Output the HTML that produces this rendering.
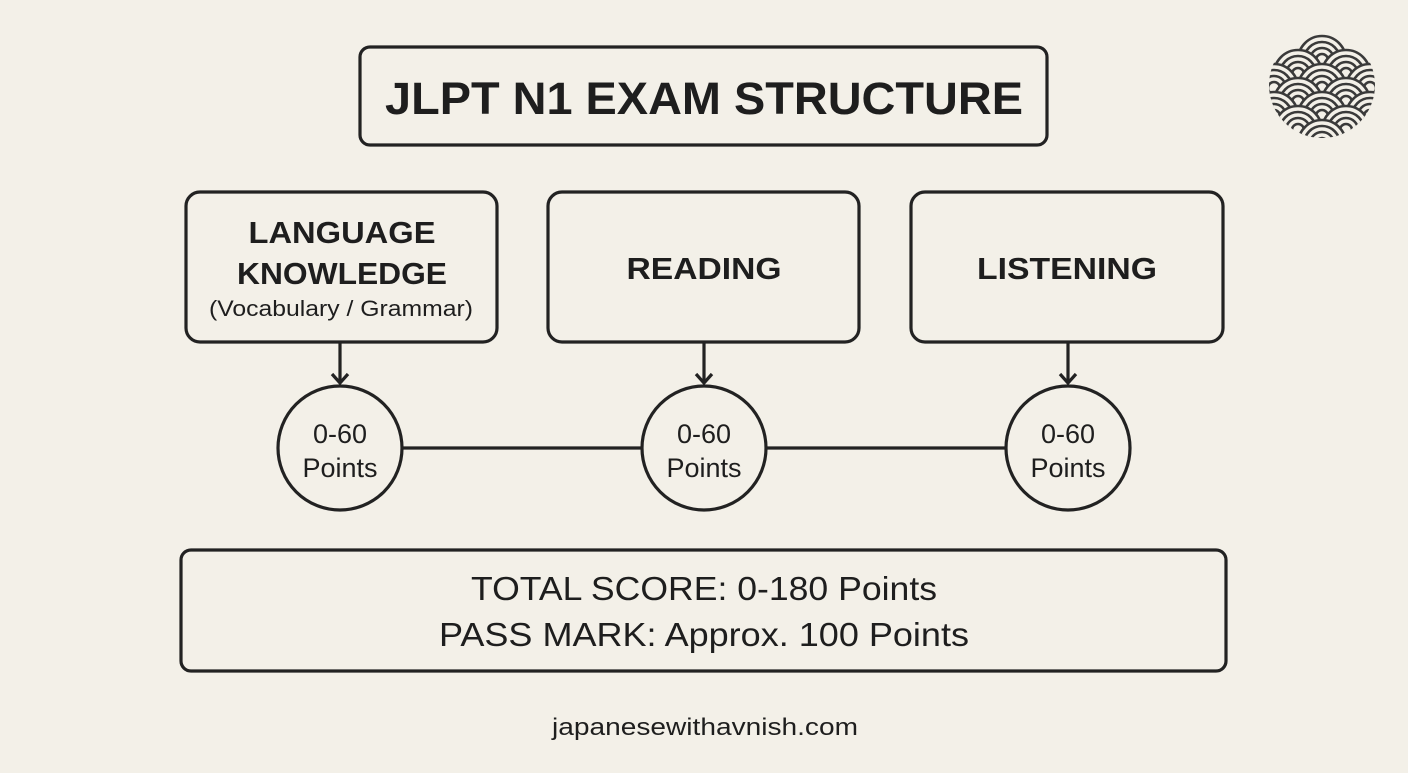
<!DOCTYPE html>
<html><head><meta charset="utf-8"><style>
body{margin:0;width:1408px;height:768px;background:#f3f0e8;overflow:hidden;font-family:"Liberation Sans",sans-serif;color:#1e1e1e}
</style></head><body>
<svg width="1408" height="768" viewBox="0 0 1408 768" xmlns="http://www.w3.org/2000/svg">
<defs>
<clipPath id="c"><circle cx="1322" cy="85" r="53"/></clipPath>
<g id="w" fill="#f3f0e8" stroke="#3a3a3a" stroke-width="2.6">
<circle r="24"/><circle r="18"/><circle r="12"/><circle r="6"/>
</g>
</defs>
<g fill="none" stroke="#222" stroke-width="3.2">
<rect x="360" y="47" width="687" height="98" rx="10"/>
<rect x="186" y="192" width="311" height="150" rx="14"/>
<rect x="548" y="192" width="311" height="150" rx="14"/>
<rect x="911" y="192" width="312" height="150" rx="14"/>
<line x1="402" y1="448" x2="642" y2="448"/>
<line x1="766" y1="448" x2="1006" y2="448"/>
<circle cx="340" cy="448" r="62"/>
<circle cx="704" cy="448" r="62"/>
<circle cx="1068" cy="448" r="62"/>
<line x1="340" y1="342" x2="340" y2="383"/>
<line x1="704" y1="342" x2="704" y2="383"/>
<line x1="1068" y1="342" x2="1068" y2="383"/>
<polyline points="332,374 340,383 348,374"/>
<polyline points="696,374 704,383 712,374"/>
<polyline points="1060,374 1068,383 1076,374"/>
<rect x="181" y="550" width="1045" height="121" rx="10"/>
</g>
<g clip-path="url(#c)">
<use href="#w" x="1322" y="60"/>
<use href="#w" x="1298" y="74"/><use href="#w" x="1346" y="74"/>
<use href="#w" x="1274" y="88"/><use href="#w" x="1322" y="88"/><use href="#w" x="1370" y="88"/>
<use href="#w" x="1298" y="102"/><use href="#w" x="1346" y="102"/>
<use href="#w" x="1274" y="116"/><use href="#w" x="1322" y="116"/><use href="#w" x="1370" y="116"/>
<use href="#w" x="1298" y="130"/><use href="#w" x="1346" y="130"/>
<use href="#w" x="1322" y="144"/>
</g>
<g text-anchor="middle" fill="#1e1e1e">
<text x="704" y="114" font-size="45" font-weight="bold" textLength="638" lengthAdjust="spacingAndGlyphs">JLPT N1 EXAM STRUCTURE</text>
<text x="342" y="243" font-size="31" font-weight="bold" textLength="187" lengthAdjust="spacingAndGlyphs">LANGUAGE</text>
<text x="342" y="284" font-size="31" font-weight="bold" textLength="210" lengthAdjust="spacingAndGlyphs">KNOWLEDGE</text>
<text x="341" y="316" font-size="22" textLength="264" lengthAdjust="spacingAndGlyphs">(Vocabulary / Grammar)</text>
<text x="704" y="279" font-size="31" font-weight="bold" textLength="155" lengthAdjust="spacingAndGlyphs">READING</text>
<text x="1067" y="279" font-size="31" font-weight="bold" textLength="180" lengthAdjust="spacingAndGlyphs">LISTENING</text>
<g font-size="27"><text x="340" y="443">0-60</text><text x="340" y="477">Points</text>
<text x="704" y="443">0-60</text><text x="704" y="477">Points</text>
<text x="1068" y="443">0-60</text><text x="1068" y="477">Points</text></g>
<text x="704" y="600" font-size="33" textLength="466" lengthAdjust="spacingAndGlyphs">TOTAL SCORE: 0-180 Points</text>
<text x="704" y="646" font-size="33" textLength="530" lengthAdjust="spacingAndGlyphs">PASS MARK: Approx. 100 Points</text>
<text x="705" y="735" font-size="24" textLength="306" lengthAdjust="spacingAndGlyphs">japanesewithavnish.com</text>
</g>
</svg>
</body></html>
